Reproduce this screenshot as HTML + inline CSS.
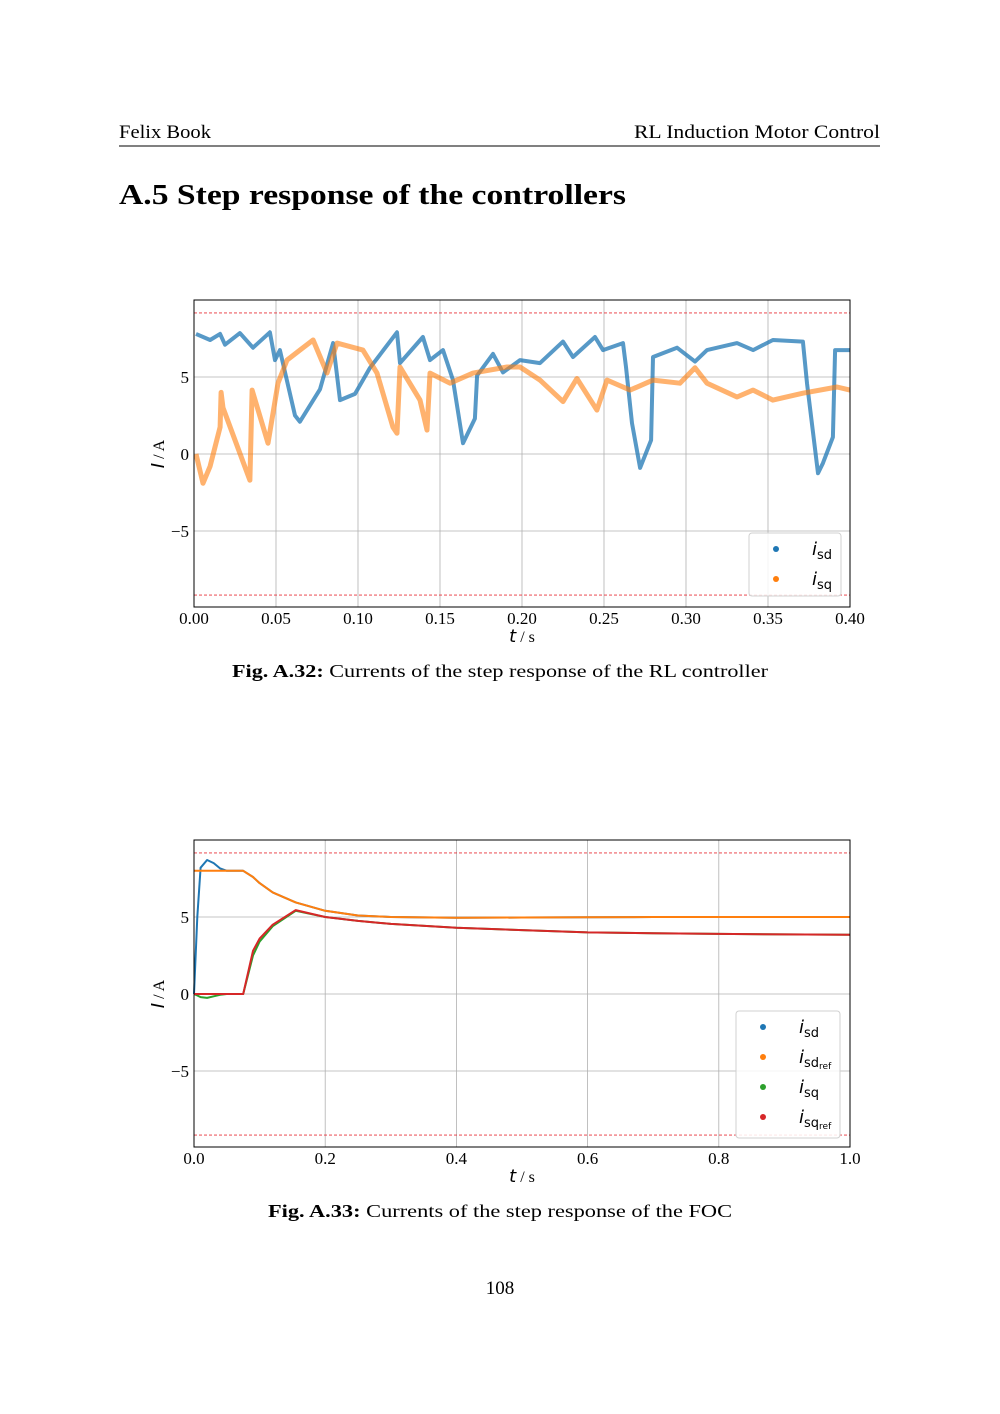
<!DOCTYPE html>
<html><head><meta charset="utf-8"><style>
body{margin:0;background:#fff}
svg{display:block}
.serif{font-family:"Liberation Serif",serif}
.sans{font-family:"DejaVu Sans","Liberation Sans",sans-serif}
</style></head><body>
<svg id="page" width="1000" height="1414" viewBox="0 0 1000 1414" xmlns="http://www.w3.org/2000/svg">
<text x="119" y="138" class="serif" font-size="19" textLength="92" lengthAdjust="spacingAndGlyphs">Felix Book</text>
<text x="634" y="138" class="serif" font-size="19" textLength="246" lengthAdjust="spacingAndGlyphs">RL Induction Motor Control</text>
<line x1="119" y1="146" x2="880" y2="146" stroke="#000" stroke-width="1"/>
<text x="119" y="204" class="serif" font-size="29" font-weight="bold" textLength="507" lengthAdjust="spacingAndGlyphs">A.5 Step response of the controllers</text>
<g id="chart1"></g>
<g id="chart2"></g>
<text x="232" y="677" class="serif" font-size="18" textLength="536" lengthAdjust="spacingAndGlyphs"><tspan font-weight="bold">Fig. A.32:</tspan> Currents of the step response of the RL controller</text>
<text x="268" y="1217" class="serif" font-size="18" textLength="464" lengthAdjust="spacingAndGlyphs"><tspan font-weight="bold">Fig. A.33:</tspan> Currents of the step response of the FOC</text>
<text x="500" y="1294" class="serif" font-size="19" text-anchor="middle">108</text>
</svg>
<script>
// Chart 1 data (RL controller)
const c1IsdT = [0.0012,0.0098,0.0159,0.0189,0.0280,0.0360,0.0463,0.0494,0.0524,0.0616,0.0646,0.0768,0.0848,0.0890,0.0982,0.1073,0.1238,0.1256,0.1396,0.1439,0.1518,0.1579,0.1640,0.1713,0.1726,0.1823,0.1884,0.1988,0.2110,0.2250,0.2311,0.2445,0.2494,0.2616,0.2634,0.2671,0.2720,0.2787,0.2799,0.2945,0.3055,0.3128,0.3311,0.3409,0.3530,0.3713,0.3738,0.3805,0.3835,0.3896,0.3909,0.4000];
const c1IsdV = [7.8,7.4,7.8,7.1,7.85,6.9,7.9,6.1,6.75,2.5,2.1,4.2,7.2,3.5,3.9,5.6,7.9,5.9,7.6,6.1,6.75,4.8,0.7,2.3,5.1,6.5,5.3,6.1,5.9,7.3,6.3,7.6,6.75,7.2,5.65,2.0,-0.9,0.9,6.3,6.9,6.0,6.75,7.2,6.75,7.4,7.3,4.6,-1.25,-0.6,1.1,6.75,6.75];
const c1IsqT = [0.0012,0.0055,0.0098,0.0159,0.0165,0.0177,0.0323,0.0341,0.0354,0.0451,0.0512,0.0567,0.0646,0.0726,0.0811,0.0872,0.1030,0.1116,0.1213,0.1238,0.1256,0.1378,0.1421,0.1439,0.1561,0.1701,0.1909,0.1988,0.2110,0.2250,0.2335,0.2457,0.2518,0.2659,0.2799,0.2963,0.3055,0.3128,0.3311,0.3409,0.3530,0.3713,0.3921,0.4000];
const c1IsqV = [0,-1.9,-0.8,1.75,4.0,3.0,-1.2,-1.7,4.15,0.7,4.6,6.1,6.75,7.4,5.25,7.2,6.75,5.25,1.75,1.35,5.65,3.5,1.55,5.25,4.6,5.25,5.65,5.65,4.8,3.4,4.9,2.85,4.8,4.15,4.8,4.6,5.6,4.6,3.7,4.15,3.5,3.95,4.35,4.15];
// Chart 2 data (FOC)
const c2T = [0,0.005,0.01,0.02,0.03,0.04,0.05,0.075,0.09,0.1,0.12,0.155,0.2,0.25,0.3,0.4,0.5,0.6,0.7,0.8,0.9,1.0];
const c2Isd = [0,5,8.2,8.7,8.5,8.15,8.0,8.0,7.6,7.2,6.6,5.95,5.4,5.1,5.0,4.95,4.97,4.98,5.0,5.0,5.0,5.0];
const c2IsdRef = [8,8,8,8,8,8,8,8,7.6,7.2,6.6,5.95,5.4,5.1,5.0,4.95,4.97,4.98,5.0,5.0,5.0,5.0];
const c2Isq = [0,-0.1,-0.2,-0.25,-0.15,-0.05,0,0,2.5,3.4,4.4,5.4,5.0,4.75,4.55,4.3,4.15,4.0,3.95,3.9,3.87,3.85];
const c2IsqRef = [0,0,0,0,0,0,0,0,2.8,3.6,4.5,5.45,5.0,4.75,4.55,4.3,4.15,4.0,3.95,3.9,3.87,3.85];
const xTicks1 = ["0.00","0.05","0.10","0.15","0.20","0.25","0.30","0.35","0.40"];
const xTicks2 = ["0.0","0.2","0.4","0.6","0.8","1.0"];
const yTicks = [-5,0,5];
const limitVal = 9.16;

const NS="http://www.w3.org/2000/svg";
function mk(parent,tag,attrs){const e=document.createElementNS(NS,tag);for(const k in attrs)e.setAttribute(k,attrs[k]);parent.appendChild(e);return e;}

function drawChart(g,top,xmax,xticks,series,legend){
  const L=194,R=850,B=top+307;
  const xs=t=>L+t/xmax*(R-L);
  const ys=v=>top+154-v*15.4;
  xticks.forEach(lbl=>{
    const v=parseFloat(lbl),x=xs(v);
    const gl=mk(g,'line',{x1:x,y1:top,x2:x,y2:B,stroke:'#b0b0b0','stroke-width':0.8});
    
    
    const t=mk(g,'text',{x:x,y:B+17,'text-anchor':'middle','font-size':17,'class':'serif'});
    t.textContent=lbl;
    
    
  });
  yTicks.forEach(v=>{
    const y=ys(v);
    const gl=mk(g,'line',{x1:L,y1:y,x2:R,y2:y,stroke:'#b0b0b0','stroke-width':0.8});
    
    
    const t=mk(g,'text',{x:L-5,y:y+6,'text-anchor':'end','font-size':17,'class':'serif'});
    t.textContent=v<0?'\u2212'+Math.abs(v):String(v);
    
    
  });
  [limitVal,-limitVal].forEach(v=>{
    const l=mk(g,'line',{x1:L,y1:ys(v),x2:R,y2:ys(v),stroke:'#e8303a','stroke-width':0.8,'stroke-dasharray':'3 2'});
    
    
  });
  series.forEach(s=>{
    const pts=s.t.map((t,i)=>xs(t).toFixed(1)+','+ys(s.v[i]).toFixed(1)).join(' ');
    const p=mk(g,'polyline',{points:pts,fill:'none',stroke:s.c,'stroke-width':s.w,'stroke-linejoin':'round','stroke-opacity':s.o});
    
    
  });
  const fr=mk(g,'rect',{x:L,y:top,width:R-L,height:B-top,fill:'none',stroke:'#000','stroke-width':1});
  
  
  const xl=mk(g,'text',{x:(L+R)/2,y:B+35,'text-anchor':'middle','font-size':18});
  xl.innerHTML='<tspan font-family="DejaVu Sans, sans-serif" font-style="italic">t</tspan><tspan font-family="Liberation Serif, serif" font-size="16"> / s</tspan>';
  
  
  const yl=mk(g,'text',{x:0,y:0,'text-anchor':'middle','font-size':18,transform:`translate(164,${ys(0)}) rotate(-90)`});
  yl.innerHTML='<tspan font-family="DejaVu Sans, sans-serif" font-style="italic">I</tspan><tspan font-family="Liberation Serif, serif" font-size="16"> / A</tspan>';
  
  
  const lg=mk(g,'g',{});
  
  
  mk(lg,'rect',{x:legend.x,y:legend.y,width:legend.w,height:legend.h,rx:3,fill:'#fff','fill-opacity':0.85,stroke:'#d0d0d0','stroke-width':1});
  legend.items.forEach((it,i)=>{
    const cy=legend.y+16+i*legend.step;
    const e=mk(lg,'g',{});
    
    
    mk(e,'circle',{cx:legend.x+legend.dx,cy:cy,r:3,fill:it.c});
    const t=mk(e,'text',{x:legend.x+legend.dx+36,y:cy+6,'font-size':18,'font-family':'DejaVu Sans, sans-serif'});
    t.innerHTML='<tspan font-style="italic">i</tspan><tspan font-size="13" dy="4">'+it.sub+'</tspan>'+(it.ref?'<tspan font-size="9" dy="2">ref</tspan>':'');
  });
}

drawChart(document.getElementById('chart1'),300,0.4,xTicks1,[
  {name:'isd-series',t:c1IsdT,v:c1IsdV,c:'#1f77b4',w:4,o:0.75},
  {name:'isq-series',t:c1IsqT,v:c1IsqV,c:'#ff7f0e',w:5,o:0.6}
],{x:749,y:533,w:92,h:63,dx:27,step:30,items:[{c:'#1f77b4',sub:'sd'},{c:'#ff7f0e',sub:'sq'}]});

drawChart(document.getElementById('chart2'),840,1.0,xTicks2,[
  {name:'isd-series',t:c2T,v:c2Isd,c:'#1f77b4',w:2,o:1},
  {name:'isd-ref-series',t:c2T,v:c2IsdRef,c:'#ff7f0e',w:2,o:1},
  {name:'isq-series',t:c2T,v:c2Isq,c:'#2ca02c',w:2,o:1},
  {name:'isq-ref-series',t:c2T,v:c2IsqRef,c:'#d62728',w:2,o:1}
],{x:736,y:1011,w:104,h:127,dx:27,step:30,items:[{c:'#1f77b4',sub:'sd'},{c:'#ff7f0e',sub:'sd',ref:true},{c:'#2ca02c',sub:'sq'},{c:'#d62728',sub:'sq',ref:true}]});
</script>
</body></html>
